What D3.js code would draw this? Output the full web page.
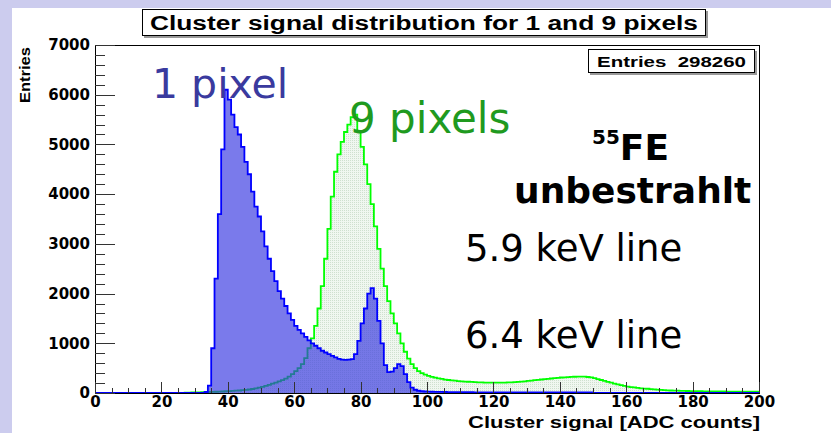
<!DOCTYPE html>
<html>
<head>
<meta charset="utf-8">
<title>Cluster signal distribution</title>
<script src="https://cdn.jsdelivr.net/npm/d3@7"></script>
<style>
  body { margin: 0; background: #ffffff; }
  svg { display: block; }
  .tick line { stroke: #333333; shape-rendering: crispEdges; }
  .tick text { font-family: "DejaVu Sans", sans-serif; font-weight: bold; font-size: 15px; fill: #000; }
  .domain { display: none; }
</style>
</head>
<body>
<script>
'use strict';
// bin lower edges are 0..199, width 1 ADC count
const onePixel = [
  0,0,0,0,0,0,0,0,0,0, 0,0,0,0,0,0,0,0,0,0, 0,0,0,0,0,0,0,0,0,0, 0,0,0,20,150,900,2300,3600,4900,6100,
  5900,5600,5350,5200,4950,4650,4400,4050,3750,3550, 3250,2950,2700,2450,2250,2050,1900,1750,1600,1470,
  1350,1270,1200,1130,1060,1000,950,900,850,815, 780,745,715,685,670,665,670,680,780,1050,
  1400,1700,2000,2110,1900,1450,1000,560,420,430, 500,580,540,380,220,110,65,45,35,30,
  27,25,24,22,21,20,19,18,18,17, 16,16,15,15,14,14,14,13,13,13,
  12,12,12,12,11,11,11,11,11,10, 10,10,10,10,10,10,10,10,10,10, 10,10,10,10,10,10,10,10,10,10,
  0,0,0,0,0,0,0,0,0,0, 0,0,0,0,0,0,0,0,0,0, 0,0,0,0,0,0,0,0,0,0, 0,0,0,0,0,0,0,0,0,0, 0,0,0,0,0,0,0,0,0,0
];
const ninePixels = [
  0,0,0,0,0,0,0,0,0,0, 0,0,0,0,0,0,0,0,0,0, 0,0,0,0,0,0,0,5,8,10,
  12,14,16,18,20,22,25,28,30,35, 38,42,46,50,56,62,70,80,95,110,
  125,145,165,190,210,235,260,290,330,380, 440,500,580,700,900,1100,1350,1700,2150,2700,
  3300,3950,4450,4800,5050,5250,5400,5550,5600,5250, 4950,4600,4200,3800,3350,2900,2500,2150,1850,1600,
  1400,1200,1000,830,690,580,500,440,400,370, 345,325,310,295,285,270,262,255,248,240,
  235,230,226,222,218,215,212,210,208,208, 207,208,208,210,212,215,218,222,228,235,
  242,250,258,265,272,278,285,292,300,306, 312,316,320,324,327,330,330,328,322,315,
  300,280,262,245,225,208,190,175,160,145, 130,120,112,103,95,90,85,78,72,66,
  62,58,54,50,48,46,44,42,40,38, 37,36,35,34,33,33,32,31,30,30,
  29,29,28,28,27,27,26,26,25,25
];
const xMajorTicks = [0, 20, 40, 60, 80, 100, 120, 140, 160, 180, 200];
const yMajorTicks = [0, 1000, 2000, 3000, 4000, 5000, 6000, 7000];
const entries = 298260;

const W = 831, H = 433;
const frame = {left: 95, top: 45, right: 759, bottom: 393};

const svg = d3.select('body').append('svg')
  .attr('width', W)
  .attr('height', H);

// slide background strips
svg.append('rect').attr('x', 0).attr('y', 0).attr('width', W).attr('height', 8).attr('fill', '#ccccee');
svg.append('rect').attr('x', 0).attr('y', 0).attr('width', 12).attr('height', H).attr('fill', '#ccccee');

const x = d3.scaleLinear().domain([0, 200]).range([frame.left, frame.right]);
const y = d3.scaleLinear().domain([0, 7000]).range([frame.bottom, frame.top]);

svg.append('rect')
  .attr('x', frame.left).attr('y', frame.top)
  .attr('width', frame.right - frame.left).attr('height', frame.bottom - frame.top)
  .attr('fill', '#ffffff');

function bins(values) {
  const pts = values.map((v, i) => ({e: i, v: v}));
  pts.push({e: values.length, v: values[values.length - 1]});
  return pts;
}

const area = d3.area()
  .curve(d3.curveStepAfter)
  .x(d => x(d.e))
  .y0(y(0))
  .y1(d => y(d.v));
const line = d3.line()
  .curve(d3.curveStepAfter)
  .x(d => x(d.e))
  .y(d => y(d.v));

// 9 pixels: light dotted green fill
const defs = svg.append('defs');
const gp = defs.append('pattern').attr('id', 'greenDots')
  .attr('width', 2).attr('height', 2).attr('patternUnits', 'userSpaceOnUse');
gp.append('rect').attr('width', 2).attr('height', 2).attr('fill', '#f0f7f0');
gp.append('rect').attr('width', 1).attr('height', 1).attr('fill', '#cfe0cf');

svg.append('path').datum(bins(ninePixels))
  .attr('d', area).attr('fill', 'url(#greenDots)');
svg.append('path').datum(bins(ninePixels))
  .attr('d', line).attr('fill', 'none').attr('stroke', '#00ff00').attr('stroke-width', 1.8);

// 1 pixel: translucent blue fill on top
svg.append('path').datum(bins(onePixel))
  .attr('d', area).attr('fill', '#3535e0').attr('fill-opacity', 0.66);
svg.append('path').datum(bins(onePixel))
  .attr('d', line).attr('fill', 'none').attr('stroke', '#0000ff').attr('stroke-width', 1.8);

// frame
svg.append('rect')
  .attr('x', frame.left).attr('y', frame.top)
  .attr('width', frame.right - frame.left).attr('height', frame.bottom - frame.top)
  .attr('fill', 'none').attr('stroke', '#000').attr('stroke-width', 1)
  .attr('shape-rendering', 'crispEdges');

// axes, ticks pointing inside like ROOT
svg.append('g')
  .attr('transform', 'translate(' + frame.left + ',0)')
  .call(d3.axisLeft(y).tickValues(d3.range(0, 7001, 200)).tickSize(-10).tickFormat(''));
svg.append('g')
  .attr('transform', 'translate(' + frame.left + ',0)')
  .call(d3.axisLeft(y).tickValues(yMajorTicks).tickSize(-20).tickPadding(5).tickFormat(d3.format('d')));

svg.append('g')
  .attr('transform', 'translate(0,' + frame.bottom + ')')
  .call(d3.axisBottom(x).tickValues(d3.range(0, 201, 5)).tickSize(-5).tickFormat(''));
svg.append('g')
  .attr('transform', 'translate(0,' + frame.bottom + ')')
  .call(d3.axisBottom(x).tickValues(xMajorTicks).tickSize(-11).tickPadding(3).tickFormat(d3.format('d')));

// axis titles
svg.append('text')
  .attr('x', frame.right + 1).attr('y', 428)
  .attr('text-anchor', 'end')
  .attr('textLength', 292).attr('lengthAdjust', 'spacingAndGlyphs')
  .style('font-family', 'Liberation Sans, Arial, sans-serif').style('font-weight', 'bold').style('font-size', '17px')
  .text('Cluster signal [ADC counts]');
svg.append('text')
  .attr('transform', 'translate(30,47) rotate(-90)')
  .attr('text-anchor', 'end')
  .attr('textLength', 56).attr('lengthAdjust', 'spacingAndGlyphs')
  .style('font-family', 'Liberation Sans, Arial, sans-serif').style('font-weight', 'bold').style('font-size', '15px')
  .text('Entries');

// title box
svg.append('rect').attr('x', 144).attr('y', 11).attr('width', 564).attr('height', 27).attr('fill', '#999');
svg.append('rect').attr('x', 142.5).attr('y', 9.5).attr('width', 563).attr('height', 26)
  .attr('fill', '#fff').attr('stroke', '#000').attr('stroke-width', 1);
svg.append('text')
  .attr('x', 424).attr('y', 30)
  .attr('text-anchor', 'middle')
  .attr('textLength', 548).attr('lengthAdjust', 'spacingAndGlyphs')
  .style('font-family', 'Liberation Sans, Arial, sans-serif').style('font-weight', 'bold').style('font-size', '20px')
  .text('Cluster signal distribution for 1 and 9 pixels');

// stats box
svg.append('rect').attr('x', 590).attr('y', 51).attr('width', 167).attr('height', 24).attr('fill', '#999');
svg.append('rect').attr('x', 588.5).attr('y', 49.5).attr('width', 166).attr('height', 23)
  .attr('fill', '#fff').attr('stroke', '#000').attr('stroke-width', 1);
svg.append('text')
  .attr('x', 597).attr('y', 67)
  .attr('textLength', 149).attr('lengthAdjust', 'spacingAndGlyphs')
  .style('font-family', 'Liberation Sans, Arial, sans-serif').style('font-weight', 'bold').style('font-size', '15px')
  .style('white-space', 'pre')
  .text('Entries  ' + entries);

// slide annotations
function note(txt, xx, yy, size, color, weight) {
  return svg.append('text')
    .attr('x', xx).attr('y', yy)
    .style('font-family', 'DejaVu Sans, sans-serif')
    .style('font-size', size + 'px')
    .style('font-weight', weight || 'normal')
    .attr('fill', color)
    .text(txt);
}
note('1 pixel', 152, 98, 41, '#3a3a9e');
note('9 pixels', 349, 133, 42, '#1f9a1f');
const fe = note('', 592, 160, 36, '#000', 'bold');
fe.append('tspan').attr('dy', -16).style('font-size', '20px').text('55');
fe.append('tspan').attr('dy', 16).text('FE');
note('unbestrahlt', 514, 203, 36, '#000', 'bold');
note('5.9 keV line', 465, 261, 37, '#000');
note('6.4 keV line', 465, 348, 37, '#000');
</script>
</body>
</html>
